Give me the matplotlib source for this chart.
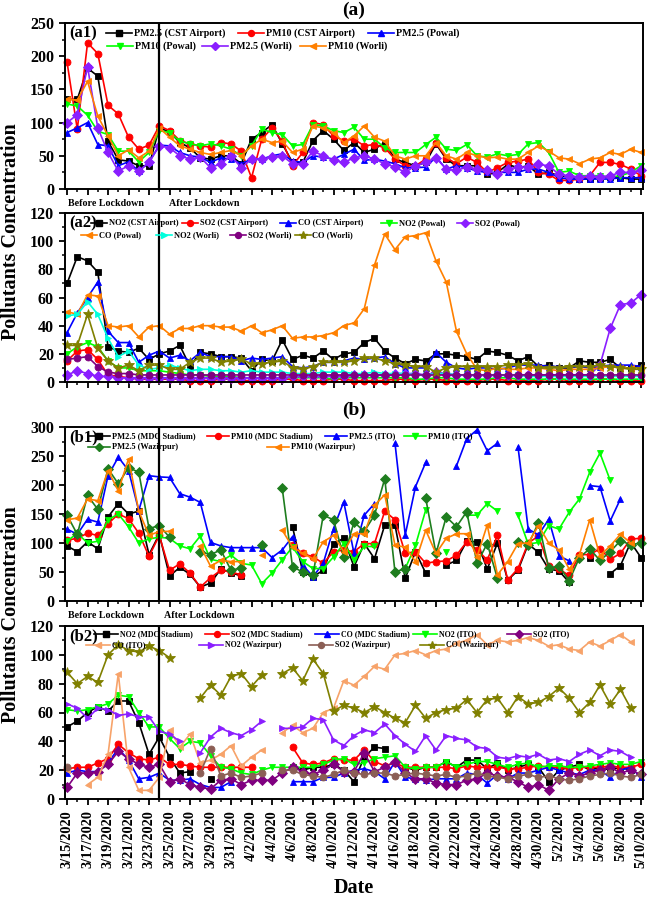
import numpy as np
import matplotlib
matplotlib.use("Agg")
import matplotlib.pyplot as plt
from matplotlib.lines import Line2D
import pandas as pd

nan = np.nan

# ---------------- categories ----------------
dates = [f"{d.month}/{d.day}/{d.year}" for d in pd.date_range("2020-03-15", "2020-05-10")]
lockdown_index = 9  # 3/24/2020

# ---------------- (a1) Mumbai PM ----------------
a1_pm25_cst = [135,135,182,170,72,44,42,35,35,92,
               86,70,62,47,45,50,50,38,75,85,
               97,68,40,40,73,88,75,58,70,55,
               60,70,45,40,35,40,68,45,35,35,
               35,22,25,37,32,35,22,25,20,18,
               15,15,17,18,17,15,15]
a1_pm10_cst = [191,90,220,204,126,113,78,60,66,95,
               88,73,68,65,63,70,68,57,17,75,
               92,72,35,55,100,97,80,73,75,65,
               67,62,45,35,35,45,70,47,38,48,
               40,25,32,40,42,45,25,22,13,13,
               15,20,40,40,37,30,20]
a1_pm25_powal = [85,92,100,67,65,35,41,27,40,66,
                 65,55,50,48,40,47,45,38,45,45,
                 50,53,42,40,50,48,45,52,60,43,
                 45,42,38,32,32,33,48,30,35,32,
                 27,25,25,25,25,30,30,25,17,15,
                 15,15,15,15,17,17,17]
a1_pm10_powal = [128,125,111,87,82,57,57,41,55,88,
                 85,72,68,65,68,65,60,50,65,90,
                 85,82,65,67,97,95,88,85,93,75,
                 75,62,55,55,55,67,78,60,58,67,
                 50,48,53,50,52,68,70,55,25,27,
                 20,20,20,18,20,25,35]
a1_pm25_worli = [100,112,184,92,55,27,35,27,40,65,
                 62,50,45,48,32,38,50,32,45,45,
                 48,50,38,38,57,50,43,40,47,50,
                 45,38,33,25,35,40,47,30,28,33,
                 30,28,22,30,33,33,37,35,22,20,
                 18,20,18,20,25,25,28]
a1_pm10_worli = [135,134,162,110,80,50,59,47,57,92,
                 78,65,60,55,52,55,58,50,65,75,
                 70,72,55,60,95,92,85,70,80,95,
                 78,72,50,45,50,50,70,50,45,55,
                 50,47,48,45,45,55,65,57,47,45,
                 38,45,47,55,52,60,55]

# ---------------- (a2) Mumbai gases ----------------
a2_no2_cst = [70,89,86,78,25,22,21,24,16,20,
              22,26,11,21,20,18,18,17,8,16,
              15,30,16,19,17,22,16,20,21,28,
              31,22,17,13,16,15,20,20,19,18,
              16,22,21,19,15,18,11,12,10,10,
              15,14,14,16,10,10,12]
a2_so2_cst = [15,22,23,16,5,4,3,2,2,2,
              2,2,1,1,1,2,2,1,1,1,
              1,2,2,1,1,1,2,2,1,1,
              1,1,2,2,1,2,2,1,1,1,
              1,2,2,1,1,1,1,2,2,1,
              1,1,2,2,1,1,1]
a2_co_cst = [35,49,60,71,36,28,28,14,19,22,
             17,19,15,21,18,18,18,15,17,16,
             17,18,11,10,11,14,14,15,17,16,
             17,18,13,10,10,10,21,14,10,9,
             10,10,9,10,12,12,12,11,11,10,
             11,10,11,12,12,12,11]
a2_no2_powal = [20,25,28,25,15,10,10,8,8,8,
                7,6,5,5,4,4,4,3,3,3,
                3,3,3,3,3,3,2,3,3,3,
                3,3,3,3,2,2,3,3,2,2,
                2,2,3,3,2,2,2,2,2,2,
                2,2,2,2,2,2,2]
a2_so2_powal = [5,8,6,4,4,3,3,3,3,3,
                3,3,3,3,3,3,3,3,3,3,
                3,3,4,4,4,4,4,4,5,5,
                5,5,6,6,6,5,7,6,5,5,
                5,5,5,5,5,5,5,5,5,5,
                5,5,12,38,55,56,62]
a2_co_powal = [50,48,62,61,40,39,40,32,39,40,
               34,38,38,40,40,39,39,36,40,35,
               37,40,31,32,32,33,35,40,42,52,
               83,105,94,103,104,106,86,71,36,20,
               9,8,10,9,9,10,10,9,8,9,
               9,9,10,11,10,10,10]
a2_no2_worli = [47,48,57,48,31,18,22,12,9,10,
                12,10,8,9,9,8,8,7,8,7,
                7,7,6,6,6,7,7,7,6,6,
                7,6,6,6,5,5,6,6,5,5,
                5,5,5,5,5,4,4,4,4,4,
                4,4,4,4,4,4,4]
a2_so2_worli = [16,17,18,11,7,6,6,5,5,5,
                5,5,5,5,5,5,5,5,5,5,
                5,5,5,5,5,5,5,5,5,5,
                5,5,5,5,5,5,5,5,5,5,
                5,5,5,5,5,5,5,5,5,5,
                5,5,5,5,5,5,5]
a2_co_worli = [26,26,48,24,15,10,12,8,12,12,
               9,9,14,17,17,14,15,16,13,13,
               14,15,10,9,11,14,14,14,15,17,
               17,15,13,12,11,11,7,10,11,11,
               11,11,11,12,12,13,10,10,10,11,
               11,11,12,11,10,9,9]

# ---------------- (b1) Delhi PM ----------------
b1_pm25_mdc = [95,85,102,90,145,168,150,155,80,115,
               43,58,46,24,31,55,49,43,nan,nan,
               nan,nan,128,50,42,53,99,108,59,99,
               73,131,131,39,85,48,nan,62,70,103,
               102,55,100,36,53,98,84,55,52,32,
               nan,75,nan,47,61,101,75]
b1_pm10_mdc = [105,108,117,113,133,150,142,117,77,113,
               53,64,48,24,40,53,50,45,nan,nan,
               nan,nan,96,82,76,65,85,88,85,99,
               99,155,140,82,85,65,68,69,79,102,
               88,71,113,36,56,100,112,60,55,44,
               80,80,90,72,82,107,108]
b1_pm25_ito = [124,115,141,136,216,248,225,156,216,214,
               213,185,179,170,101,95,92,92,92,92,
               75,88,111,62,42,65,125,171,82,148,
               168,nan,272,114,197,239,nan,nan,233,280,
               295,259,272,nan,266,124,114,141,78,69,
               nan,199,197,138,176,nan,nan]
b1_pm10_ito = [103,117,100,103,140,150,128,100,107,110,
               108,95,90,112,72,68,79,65,62,30,
               48,71,93,68,56,56,76,99,71,94,
               94,nan,nan,56,96,157,nan,85,nan,148,
               148,168,155,nan,148,98,101,130,124,153,
               176,222,255,208,nan,nan,nan]
b1_pm25_waz = [148,115,182,158,228,202,230,222,125,130,
               110,nan,nan,85,80,88,53,57,nan,96,
               nan,194,59,50,45,148,140,76,136,120,
               148,211,50,56,nan,177,82,145,128,154,
               65,99,39,nan,102,97,135,57,60,35,
               75,90,70,85,104,97,100]
b1_pm10_waz = [140,143,176,173,225,190,245,155,113,120,
               120,nan,nan,95,60,70,68,68,nan,79,
               nan,122,93,82,73,102,113,85,116,116,
               165,183,96,93,68,122,82,108,116,116,
               76,131,45,68,99,100,130,100,88,55,
               80,140,78,95,115,100,nan]

# ---------------- (b2) Delhi gases ----------------
b2_no2_mdc = [50,54,60,64,61,68,68,53,31,43,
              29,18,19,nan,14,nan,nan,nan,nan,nan,
              nan,nan,22,20,22,22,24,20,12,29,
              36,35,nan,22,20,22,22,26,22,27,
              27,21,25,20,22,24,22,12,20,22,
              24,20,22,20,22,20,nan]
b2_so2_mdc = [21,22,22,25,28,38,32,28,27,29,
              24,24,23,22,22,22,22,22,22,nan,
              nan,nan,36,25,24,25,28,27,27,34,
              26,23,25,22,22,22,22,22,21,23,
              22,22,22,21,21,22,23,22,22,21,
              22,22,22,23,22,22,24]
b2_co_mdc = [18,20,19,19,25,35,27,14,15,18,
             13,13,14,10,8,8,12,nan,nan,nan,
             nan,nan,12,12,12,15,15,18,20,21,
             19,14,26,15,14,13,14,14,14,18,
             17,11,17,14,18,18,20,22,20,18,
             17,20,20,15,20,22,15]
b2_no2_ito = [62,61,62,64,66,72,71,60,50,50,
              42,35,40,39,30,22,21,18,17,20,
              22,22,22,22,22,24,27,28,24,25,
              28,29,30,22,21,22,22,26,22,24,
              26,26,24,22,24,25,22,23,23,22,
              22,23,24,25,24,24,26]
b2_so2_ito = [8,18,18,19,24,33,28,24,22,24,
              12,14,10,8,7,13,14,10,13,13,
              13,18,22,19,17,20,24,19,19,32,
              19,22,26,18,14,14,11,10,10,13,
              14,18,16,15,12,8,10,6,14,18,
              16,18,20,22,18,20,17]
b2_co_ito = [20,nan,10,15,31,87,22,6,6,15,
             48,36,45,25,27,31,37,23,29,34,
             nan,46,51,46,49,60,63,82,79,85,
             92,90,100,101,103,100,103,104,108,110,
             114,107,110,109,110,112,110,106,107,104,
             103,109,106,110,114,109,nan]
b2_no2_waz = [66,63,56,63,62,58,59,57,57,47,
              45,40,nan,32,43,49,46,44,48,54,
              nan,49,49,50,56,55,41,37,44,48,
              46,52,44,38,33,44,34,44,42,41,
              36,35,29,28,30,29,31,27,28,26,
              31,34,30,34,33,29,nan]
b2_so2_waz = [22,nan,nan,nan,nan,nan,nan,nan,nan,nan,
              nan,nan,nan,18,35,16,18,15,16,18,
              nan,20,20,17,16,15,17,20,18,17,
              18,18,16,17,18,17,16,17,15,16,
              18,16,15,14,16,17,15,16,14,13,
              14,16,17,18,16,15,17]
b2_co_waz = [88,80,85,81,100,107,103,102,106,103,
             98,nan,nan,70,79,72,85,87,78,86,
             nan,87,91,82,97,87,61,65,63,60,
             64,60,56,53,65,56,60,62,63,69,
             60,69,70,60,71,66,67,71,77,70,
             60,67,79,66,76,63,nan]

# ---------------- styling ----------------
plt.rcParams['font.family'] = ['Liberation Serif', 'DejaVu Serif']
plt.rcParams['font.weight'] = 'bold'

BLACK, RED, BLUE, LIME = '#000000', '#FF0000', '#0000FF', '#00FF00'
VIOLET, ORANGE, CYAN = '#8A1EFF', '#FF8000', '#00FFDD'
DPURPLE, OLIVE, DGREEN = '#800080', '#808000', '#1E7D1E'
PEACH, BROWN = '#F7A36A', '#8B5E55'

W, H = 649, 898
fig = plt.figure(figsize=(W / 100, H / 100), dpi=100)
fig.patch.set_facecolor('white')

def fx(px):
    return px / W

def fy(py):
    return 1 - py / H

AX_L, AX_R = 65, 643
x = np.arange(len(dates))


def make_ax(top, bottom, ymax, ystep):
    ax = fig.add_axes([fx(AX_L), fy(bottom), fx(AX_R - AX_L), (bottom - top) / H])
    ax.set_xlim(-0.2, len(dates) - 1 + 0.2)
    ax.set_ylim(0, ymax)
    ax.set_yticks(np.arange(0, ymax + 1, ystep))
    ax.set_yticks(np.arange(ystep / 2, ymax, ystep), minor=True)
    ax.set_xticks(x[::2])
    ax.set_xticks(x, minor=True)
    ax.tick_params(axis='both', which='major', direction='out', length=4.5, width=1.3,
                   labelsize=11.5, top=False, right=False)
    ax.tick_params(axis='both', which='minor', direction='out', length=2.5, width=1.1,
                   top=False, right=False)
    for lab in ax.get_yticklabels():
        lab.set_fontweight('bold')
    for s in ax.spines.values():
        s.set_linewidth(1.4)
    ax.axvline(lockdown_index, color='black', lw=1.6, zorder=5)
    return ax


def plot_series(ax, series):
    for label, vals, color, marker in series:
        ms = 7 if marker == '*' else 5.0
        ax.plot(x, vals, color=color, marker=marker, ms=ms, lw=1.2,
                markeredgecolor=color, markeredgewidth=0.6, clip_on=False)


renderer = fig.canvas.get_renderer()


def draw_legend(top, rows, fontsize, hl):
    for dy, entries in rows:
        y_px = top + dy
        prev_end = None
        for (label, color, marker, text_x) in entries:
            tx = text_x
            if prev_end is not None:
                tx = max(tx, prev_end + 3 + hl + 2)
            x0, x1 = tx - 2 - hl, tx - 2
            fig.add_artist(Line2D([fx(x0), fx(x1)], [fy(y_px)] * 2, color=color, lw=1.2,
                                  transform=fig.transFigure))
            ms = 6 if marker == '*' else 4.3
            fig.add_artist(Line2D([fx((x0 + x1) / 2)], [fy(y_px)], marker=marker, ms=ms,
                                  color=color, linestyle='none', transform=fig.transFigure))
            t = fig.text(fx(tx), fy(y_px), label, fontsize=fontsize, fontweight='bold',
                         va='center', ha='left')
            prev_end = t.get_window_extent(renderer).x1


# ---------------- panel (a1) ----------------
A1_TOP, A1_BOT = 23, 189
ax1 = make_ax(A1_TOP, A1_BOT, 250, 50)
s_a1 = [('PM2.5 (CST Airport)', a1_pm25_cst, BLACK, 's'),
        ('PM10 (CST Airport)', a1_pm10_cst, RED, 'o'),
        ('PM2.5 (Powal)', a1_pm25_powal, BLUE, '^'),
        ('PM10 (Powal)', a1_pm10_powal, LIME, 'v'),
        ('PM2.5 (Worli)', a1_pm25_worli, VIOLET, 'D'),
        ('PM10 (Worli)', a1_pm10_worli, ORANGE, '<')]
plot_series(ax1, s_a1)
ax1.set_xticklabels([])

# ---------------- panel (a2) ----------------
A2_TOP, A2_BOT = 213, 382
ax2 = make_ax(A2_TOP, A2_BOT, 120, 20)
s_a2 = [('NO2 (CST Airport)', a2_no2_cst, BLACK, 's'),
        ('SO2 (CST Airport)', a2_so2_cst, RED, 'o'),
        ('CO (CST Airport)', a2_co_cst, BLUE, '^'),
        ('NO2 (Powal)', a2_no2_powal, LIME, 'v'),
        ('SO2 (Powal)', a2_so2_powal, VIOLET, 'D'),
        ('CO (Powal)', a2_co_powal, ORANGE, '<'),
        ('NO2 (Worli)', a2_no2_worli, CYAN, '>'),
        ('SO2 (Worli)', a2_so2_worli, DPURPLE, 'o'),
        ('CO (Worli)', a2_co_worli, OLIVE, '*')]
plot_series(ax2, s_a2)
ax2.set_xticklabels([])

# ---------------- panel (b1) ----------------
B1_TOP, B1_BOT = 427, 601
ax3 = make_ax(B1_TOP, B1_BOT, 300, 50)
s_b1 = [('PM2.5 (MDC Stadium)', b1_pm25_mdc, BLACK, 's'),
        ('PM10 (MDC Stadium)', b1_pm10_mdc, RED, 'o'),
        ('PM2.5 (ITO)', b1_pm25_ito, BLUE, '^'),
        ('PM10 (ITO)', b1_pm10_ito, LIME, 'v'),
        ('PM2.5 (Wazirpur)', b1_pm25_waz, DGREEN, 'D'),
        ('PM10 (Wazirpur)', b1_pm10_waz, ORANGE, '<')]
plot_series(ax3, s_b1)
ax3.set_xticklabels([])

# ---------------- panel (b2) ----------------
B2_TOP, B2_BOT = 626, 799
ax4 = make_ax(B2_TOP, B2_BOT, 120, 20)
s_b2 = [('NO2 (MDC Stadium)', b2_no2_mdc, BLACK, 's'),
        ('SO2 (MDC Stadium)', b2_so2_mdc, RED, 'o'),
        ('CO (MDC Stadium)', b2_co_mdc, BLUE, '^'),
        ('NO2 (ITO)', b2_no2_ito, LIME, 'v'),
        ('SO2 (ITO)', b2_so2_ito, DPURPLE, 'D'),
        ('CO (ITO)', b2_co_ito, PEACH, '<'),
        ('NO2 (Wazirpur)', b2_no2_waz, VIOLET, '>'),
        ('SO2 (Wazirpur)', b2_so2_waz, BROWN, 'o'),
        ('CO (Wazirpur)', b2_co_waz, OLIVE, '*')]
plot_series(ax4, s_b2)
ax4.set_xticklabels(dates[::2], rotation=90, fontsize=10.3, fontweight='bold')

# ---------------- legends ----------------
def ent(series, idx, tx):
    lab, _, c, m = series[idx]
    return (lab, c, m, tx)

draw_legend(A1_TOP, [(10, [ent(s_a1, 0, 134), ent(s_a1, 1, 266), ent(s_a1, 2, 396)]),
                     (23, [ent(s_a1, 3, 135), ent(s_a1, 4, 230), ent(s_a1, 5, 328)])],
            7.2, 26)
draw_legend(A2_TOP, [(10, [ent(s_a2, 0, 109), ent(s_a2, 1, 200), ent(s_a2, 2, 298),
                           ent(s_a2, 3, 399), ent(s_a2, 4, 475)]),
                     (22, [ent(s_a2, 5, 99), ent(s_a2, 6, 174), ent(s_a2, 7, 248),
                           ent(s_a2, 8, 312)])],
            6.0, 16)
draw_legend(B1_TOP, [(9, [ent(s_b1, 0, 112), ent(s_b1, 1, 231), ent(s_b1, 2, 349),
                          ent(s_b1, 3, 428)]),
                     (20, [ent(s_b1, 4, 112), ent(s_b1, 5, 291)])],
            6.0, 22)
draw_legend(B2_TOP, [(8, [ent(s_b2, 0, 120), ent(s_b2, 1, 231), ent(s_b2, 2, 341),
                          ent(s_b2, 3, 428), ent(s_b2, 4, 533)]),
                     (19, [ent(s_b2, 5, 112), ent(s_b2, 6, 225), ent(s_b2, 7, 335),
                           ent(s_b2, 8, 446)])],
            5.7, 24)

# ---------------- panel labels & annotations ----------------
for lab, top in [('(a1)', A1_TOP), ('(a2)', A2_TOP), ('(b1)', B1_TOP), ('(b2)', B2_TOP)]:
    fig.text(fx(69), fy(top + 10), lab, fontsize=12, fontweight='bold', va='center', ha='left')

fig.text(fx(354), fy(10), '(a)', fontsize=14, fontweight='bold', ha='center', va='center')
fig.text(fx(354), fy(410), '(b)', fontsize=14, fontweight='bold', ha='center', va='center')

for yb, xa in [(204, 169), (615, 164)]:
    fig.text(fx(68), fy(yb), 'Before Lockdown', fontsize=7.2, fontweight='bold', ha='left', va='center')
    fig.text(fx(xa), fy(yb), 'After Lockdown', fontsize=7.2, fontweight='bold', ha='left', va='center')

fig.text(fx(11), fy(232), 'Pollutants Concentration', rotation=90, fontsize=14.5,
         fontweight='bold', ha='center', va='center')
fig.text(fx(11), fy(615), 'Pollutants Concentration', rotation=90, fontsize=14.5,
         fontweight='bold', ha='center', va='center')
fig.text(fx(354), fy(888), 'Date', fontsize=14.5, fontweight='bold', ha='center', va='center')

fig.savefig('out.png', dpi=100, facecolor='white')
